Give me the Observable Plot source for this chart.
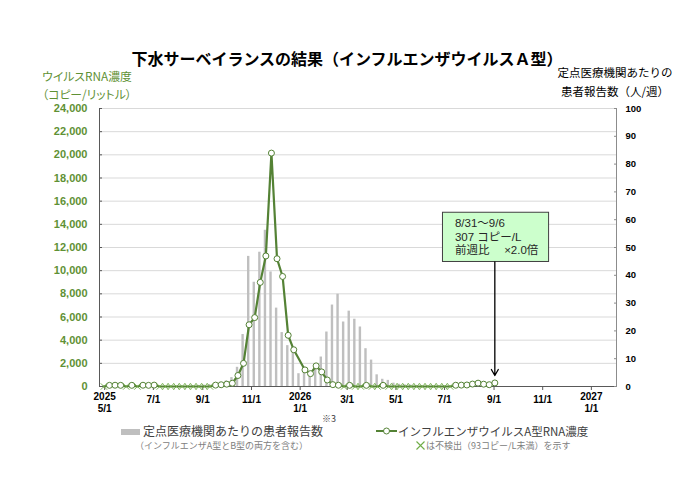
<!DOCTYPE html>
<html><head><meta charset="utf-8">
<script src="https://cdn.jsdelivr.net/npm/d3@7"></script>
<script src="https://cdn.jsdelivr.net/npm/@observablehq/plot@0.6"></script>
<style>
body{margin:0;background:#fff;}
#wrap{position:relative;width:700px;height:485px;font-family:"Noto Sans CJK JP",sans-serif;overflow:hidden;}
.abs{position:absolute;white-space:nowrap;}
.palt{font-feature-settings:"palt";}
</style></head><body>
<div id="wrap">
  <div class="abs" style="left:0;width:694px;top:47px;text-align:center;font-size:16px;line-height:23px;font-weight:bold;color:#000;">下水サーベイランスの結果（インフルエンザウイルスＡ型）</div>
  <div class="abs palt" style="left:28px;width:118px;top:67px;text-align:center;font-size:11.8px;line-height:17.5px;color:#5f9135;">ウイルスRNA濃度<br>（コピー/リットル）</div>
  <div class="abs" style="left:546px;width:138px;top:63px;text-align:center;font-size:11.5px;line-height:19px;color:#000;">定点医療機関あたりの<br>患者報告数（人/週）</div>
  <div class="abs" id="chart" style="left:0;top:100px;"></div>
  <div class="abs" style="left:121px;top:429px;width:19px;height:6px;background:#bfbfbf;"></div>
  <div class="abs" style="left:143px;top:425px;font-size:12px;line-height:12px;color:#404040;">定点医療機関あたりの患者報告数</div>
  <div class="abs" style="left:322px;top:414px;font-size:9px;line-height:10px;color:#404040;">※3</div>
  <div class="abs" style="left:135px;top:440px;font-size:9px;line-height:11px;color:#808080;">（インフルエンザA型とB型の両方を含む）</div>
  <svg class="abs" style="left:376px;top:426px;" width="21" height="10"><line x1="0" x2="21" y1="5" y2="5" stroke="#548235" stroke-width="2"/><circle cx="10.5" cy="5" r="3" fill="#fff" stroke="#548235" stroke-width="1"/></svg>
  <div class="abs" style="left:398px;top:425px;font-size:11.5px;line-height:12px;color:#404040;">インフルエンザウイルスA型RNA濃度</div>
  <svg class="abs" style="left:416px;top:441px;" width="9" height="9"><path d="M0.5,0.5L8.5,8.5M8.5,0.5L0.5,8.5" stroke="#70ad47" stroke-width="1.1"/></svg>
  <div class="abs" style="left:426px;top:440px;font-size:9px;line-height:11px;color:#808080;">は不検出（93コピー/L未満）を示す</div>
</div>
<script>
// ---- data ----
// weekly samples (Monday-start weeks), first week 2025-04-28 ... last week 2026-08-31
const firstWeek = "2025-04-28";
const lastWeek = "2026-08-31";
// RNA concentration (copies/L); "ND" = not detected (<93), null = no sample
const rnaCopies = [
  "ND",100,110,100,"ND",100,"ND",110,100,120,
  "ND","ND","ND","ND","ND","ND","ND","ND","ND","ND",
  120,150,200,280,950,2000,5330,5950,8990,11270,
  20150,11030,9500,4420,3170,null,1430,1110,1780,1260,
  560,160,110,"ND",100,"ND","ND",100,"ND","ND",
  100,"ND","ND","ND","ND","ND","ND","ND","ND","ND",
  "ND","ND","ND",110,120,130,210,290,200,154,
  307
];
// patients per sentinel site (persons/week)
const patients = [
  0.2,0.2,0.1,0.1,0.1,0.1,0.1,0.1,0.1,0.1,
  0.1,0.1,0.1,0.1,0.2,0.2,0.3,0.4,0.5,0.7,
  1.0,1.4,2.0,3.2,6.9,18.7,46.8,37.5,48.3,56.2,
  41.2,28.2,19.4,14.7,12.2,4.6,4.8,4.6,6.2,10.6,
  19.6,29.3,33.2,23.2,27.1,24.2,21.4,13.6,9.5,4.2,
  2.6,2.2,1.2,0.8,0.6,0.5,0.4,0.3,0.3,0.2,
  0.2,0.2,0.2,0.2,0.2,0.3,0.3,0.3,0.4,0.5,
  0.6
];
const xTickDates = ["2025-05-01","2025-07-01","2025-09-01","2025-11-01","2026-01-01","2026-03-01","2026-05-01","2026-07-01","2026-09-01","2026-11-01","2027-01-01"];
const xTickLabels = ["2025\n5/1","7/1","9/1","11/1","2026\n1/1","3/1","5/1","7/1","9/1","11/1","2027\n1/1"];
const leftTicks = [0,2000,4000,6000,8000,10000,12000,14000,16000,18000,20000,22000,24000];
const rightTicks = [0,10,20,30,40,50,60,70,80,90,100];
const xDomain = ["2025-04-24T12:00Z","2027-02-01T12:00Z"];
const leftMax = 24000, rightMax = 100;
// annotation box (data space)
const annoBox = {x1: "2026-06-29", x2: "2026-11-09", y1: 10750, y2: 15000};
const annoTextAt = {x: "2026-07-14", y: 14600};
const annoArrowTip = 950;

// ---- build ----
const k = leftMax / rightMax;
const weeks = d3.utcMonday.range(new Date(firstWeek), d3.utcDay.offset(new Date(lastWeek), 1));
const rows = weeks.map((w, i) => ({
  start: w,
  date: d3.utcDay.offset(w, 2),
  rna: rnaCopies[i],
  pat: patients[i]
}));
const lineRows = rows.filter(d => d.rna !== null).map(d => ({...d, y: d.rna === "ND" ? 0 : d.rna}));
const detected = lineRows.filter(d => d.rna !== "ND");
const notDetected = lineRows.filter(d => d.rna === "ND");
const bars = rows.map(d => ({x1: d3.utcDay.offset(d.date, -1.9), x2: d3.utcDay.offset(d.date, 1.9), y: d.pat * k}));

const last = detected[detected.length - 1];
const prev = detected[detected.length - 2];
const fmt = d3.utcFormat("%-m/%-d");
const annoText = `${fmt(last.start)}～${fmt(d3.utcDay.offset(last.start, 6))}\n${last.rna} コピー/L\n前週比\u3000\u00a0×${(last.rna / prev.rna).toFixed(1)}倍`;

const tickDates = xTickDates.map(d => new Date(d));
const labelOf = new Map(tickDates.map((d, i) => [+d, xTickLabels[i]]));
const yearTicks = tickDates.filter(d => labelOf.get(+d).includes("\n"));
const plainTicks = tickDates.filter(d => !labelOf.get(+d).includes("\n"));
const dom = xDomain.map(d => new Date(d));

const chart = Plot.plot({
  width: 700, height: 320,
  marginLeft: 99, marginRight: 84, marginTop: 8, marginBottom: 34,
  style: {fontFamily: "'Liberation Sans', Arial, sans-serif", background: "transparent", overflow: "visible"},
  x: {type: "utc", domain: dom},
  y: {domain: [0, leftMax]},
  marks: [
    Plot.gridY(leftTicks, {stroke: "#d9d9d9", strokeOpacity: 1}),
    Plot.rectY(bars, {x1: "x1", x2: "x2", y: "y", fill: "#bfbfbf"}),
    Plot.ruleY([0], {stroke: "#595959"}),
    Plot.ruleX([dom[0]], {stroke: "#595959"}),
    Plot.ruleX([dom[1]], {stroke: "#8c8c8c"}),
    Plot.axisY({ticks: leftTicks, tickFormat: d3.format(","), tickSize: -3, tickPadding: 15, fill: "#5f9135", stroke: "#595959", fontWeight: "bold", fontSize: 11}),
    Plot.axisY({anchor: "right", ticks: rightTicks.map(d => d * k), tickFormat: d => d3.format("d")(d / k), tickSize: -3, tickPadding: 12, fill: "#000", stroke: "#8c8c8c", fontWeight: "bold", fontSize: 9.5}),
    Plot.axisX({ticks: yearTicks, tickFormat: d => labelOf.get(+d), tickSize: 4, tickPadding: 1, fill: "#000", stroke: "#595959", fontWeight: "bold", fontSize: 10, lineHeight: 1.2}),
    Plot.axisX({ticks: plainTicks, tickFormat: d => labelOf.get(+d), tickSize: 4, tickPadding: 5, fill: "#000", stroke: "#595959", fontWeight: "bold", fontSize: 10}),
    Plot.line(lineRows, {x: "date", y: "y", stroke: "#548235", strokeWidth: 2.2}),
    Plot.dot(notDetected, {x: "date", y: "y", symbol: "times", r: 3, stroke: "#70ad47", strokeWidth: 0.9}),
    Plot.dot(detected, {x: "date", y: "y", r: 3, fill: "white", stroke: "#548235", strokeWidth: 1}),
    Plot.rect([annoBox], {x1: d => new Date(d.x1), x2: d => new Date(d.x2), y1: "y1", y2: "y2", fill: "#ccffcc", stroke: "#404040", strokeWidth: 1}),
    Plot.text([annoText], {x: () => new Date(annoTextAt.x), y: () => annoTextAt.y, text: d => d, textAnchor: "start", lineAnchor: "top", lineHeight: 1.18, fontSize: 11.5, fill: "#262626", fontFamily: "'Liberation Sans', 'Noto Sans CJK JP', sans-serif"}),
    Plot.arrow([last], {x: "date", y1: () => annoBox.y1, y2: () => annoArrowTip, stroke: "#000", strokeWidth: 1.3, headLength: 8})
  ]
});
document.getElementById("chart").append(chart);
</script>
</body></html>
